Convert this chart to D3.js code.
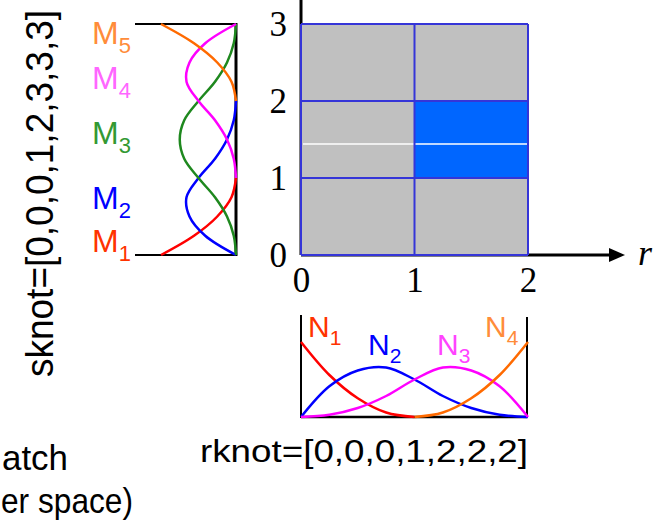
<!DOCTYPE html>
<html><head><meta charset="utf-8">
<script src="https://cdn.jsdelivr.net/npm/d3@7"></script>
<style>body{margin:0;background:#fff}svg{display:block}</style>
</head><body>
<svg id="c" width="659" height="526"></svg>
<script>
// ---- data ----
const sKnotText = "sknot=[0,0,0,1,2,3,3,3]";
const rKnotText = "rknot=[0,0,0,1,2,2,2]";
const captionLines = ["atch", "er space)"];
const sTicks = [0, 1, 2, 3];
const rTicks = [0, 1, 2];
const highlightCell = {r0: 1, r1: 2, s0: 1, s1: 2};
const isoLineS = 1.44;

// sample positions (parameter values)
const sParams = [0,0.25,0.5,0.75,1,1.25,1.5,1.75,2,2.25,2.5,2.75,3];
const M1 = [1,0.56,0.25,0.06,0,null,null,null,null,null,null,null,null];
const M2 = [0,0.41,0.62,0.66,0.5,0.28,0.12,0.03,0,null,null,null,null];
const M3 = [0,0.03,0.12,0.28,0.5,0.69,0.75,0.69,0.5,0.28,0.12,0.03,0];
const M4 = [null,null,null,null,0,0.03,0.12,0.28,0.5,0.66,0.62,0.41,0];
const M5 = [null,null,null,null,null,null,null,null,0,0.06,0.25,0.56,1];

const rParams = [0,0.25,0.5,0.75,1,1.25,1.5,1.75,2];
const N1 = [1,0.56,0.25,0.06,0,null,null,null,null];
const N2 = [0,0.41,0.62,0.66,0.5,0.28,0.12,0.03,0];
const N3 = [0,0.03,0.12,0.28,0.5,0.66,0.62,0.41,0];
const N4 = [null,null,null,null,0,0.06,0.25,0.56,1];

const mSeries = [
  {name:"M", sub:"1", vals:M1, color:"#ff0000", label:"#ff3300"},
  {name:"M", sub:"2", vals:M2, color:"#0000ff", label:"#0000ff"},
  {name:"M", sub:"3", vals:M3, color:"#1e881e", label:"#339933"},
  {name:"M", sub:"4", vals:M4, color:"#ff00ff", label:"#ff66ff"},
  {name:"M", sub:"5", vals:M5, color:"#ff6a00", label:"#ff8c3a"}
];
const mLabelY = [252, 209, 144, 89, 44];
const nSeries = [
  {name:"N", sub:"1", vals:N1, color:"#ff0000", label:"#ff3300"},
  {name:"N", sub:"2", vals:N2, color:"#0000ff", label:"#0000ff"},
  {name:"N", sub:"3", vals:N3, color:"#ff00ff", label:"#ff44ff"},
  {name:"N", sub:"4", vals:N4, color:"#ff6a00", label:"#ff8c3a"}
];
const nLabelPos = [[308,337],[368,355],[437,355],[485,337]];

// ---- drawing ----
const svg = d3.select("#c");
const sY = d3.scaleLinear().domain([0,3]).range([255,24]);
const rX = d3.scaleLinear().domain([0,2]).range([301,528]);
const mX = d3.scaleLinear().domain([0,1]).range([236,161]);
const nY = d3.scaleLinear().domain([0,1]).range([417,342]);
const SANS = "'Liberation Sans', Arial, sans-serif";
const SERIF = "'Liberation Serif', 'Times New Roman', serif";

// vertical axis line of main plot
svg.append("line").attr("x1", rX(0)).attr("x2", rX(0)).attr("y1", 0).attr("y2", sY(0))
  .attr("stroke","#000").attr("stroke-width",3);
// horizontal axis with arrow
svg.append("line").attr("x1", rX(0)).attr("x2", 612).attr("y1", sY(0)).attr("y2", sY(0))
  .attr("stroke","#000").attr("stroke-width",3);
svg.append("path").attr("d", `M609,${sY(0)-7}L625,${sY(0)}L609,${sY(0)+7}Z`).attr("fill","#000");
svg.append("text").attr("x",638).attr("y",265).attr("font-family",SERIF).attr("font-style","italic")
  .attr("font-size",36).text("r");

// cells
const cells = [];
for (let i=0;i<rTicks.length-1;i++) for (let j=0;j<sTicks.length-1;j++)
  cells.push({r0:rTicks[i], r1:rTicks[i+1], s0:sTicks[j], s1:sTicks[j+1]});
svg.append("g").selectAll("rect").data(cells).join("rect")
  .attr("x", d=>rX(d.r0)).attr("y", d=>sY(d.s1))
  .attr("width", d=>rX(d.r1)-rX(d.r0)).attr("height", d=>sY(d.s0)-sY(d.s1))
  .attr("fill", d=> (d.r0===highlightCell.r0 && d.s0===highlightCell.s0) ? "#0066ff" : "#c0c0c0");
// iso line
svg.append("line").attr("x1", rX(0)+2).attr("x2", rX(2)-1).attr("y1", sY(isoLineS)).attr("y2", sY(isoLineS))
  .attr("stroke","#fff").attr("stroke-width",1.5);
// grid lines
const gridG = svg.append("g").attr("stroke","#3535d8").attr("stroke-width",2);
rTicks.forEach(r=> gridG.append("line").attr("x1",rX(r)).attr("x2",rX(r)).attr("y1",sY(0)).attr("y2",sY(3)));
sTicks.forEach(s=> gridG.append("line").attr("x1",rX(0)).attr("x2",rX(2)).attr("y1",sY(s)).attr("y2",sY(s)));

// tick labels
const yAx = svg.append("g").attr("transform",`translate(${rX(0)},0)`)
  .call(d3.axisLeft(sY).tickValues(sTicks).tickSize(0).tickPadding(14).tickFormat(d3.format("d")));
const xAx = svg.append("g").attr("transform",`translate(0,${sY(0)})`)
  .call(d3.axisBottom(rX).tickValues(rTicks).tickSize(0).tickPadding(12).tickFormat(d3.format("d")));
[yAx,xAx].forEach(a=>{ a.select(".domain").remove();
  a.selectAll("text").attr("font-family",SERIF).attr("font-size",35).attr("fill","#000"); });

// ---- left plot (s basis functions) ----
svg.append("line").attr("x1",135).attr("x2",mX(0)).attr("y1",sY(3)).attr("y2",sY(3)).attr("stroke","#000").attr("stroke-width",2);
svg.append("line").attr("x1",135).attr("x2",mX(0)).attr("y1",sY(0)).attr("y2",sY(0)).attr("stroke","#000").attr("stroke-width",2);
svg.append("line").attr("x1",mX(0)).attr("x2",mX(0)).attr("y1",sY(3)-1).attr("y2",sY(0)+1).attr("stroke","#000").attr("stroke-width",3);
const mLine = d3.line().defined(d=>d[1]!=null).x(d=>mX(d[1])).y(d=>sY(d[0])).curve(d3.curveCatmullRom.alpha(0.5));
svg.append("g").selectAll("path").data(mSeries).join("path")
  .attr("d", d=> mLine(sParams.map((s,i)=>[s,d.vals[i]])))
  .attr("fill","none").attr("stroke",d=>d.color).attr("stroke-width",2.5);
mSeries.forEach((d,i)=>{
  const t = svg.append("text").attr("x",92).attr("y",mLabelY[i]).attr("font-family",SANS)
    .attr("font-size",32).attr("fill",d.label);
  t.append("tspan").text(d.name);
  t.append("tspan").attr("dy",9).attr("font-size",22).text(d.sub);
});

// ---- bottom plot (r basis functions) ----
svg.append("line").attr("x1",rX(0)).attr("x2",rX(0)).attr("y1",315).attr("y2",nY(0)+1).attr("stroke","#000").attr("stroke-width",2);
svg.append("line").attr("x1",rX(2)-1).attr("x2",rX(2)-1).attr("y1",317).attr("y2",nY(0)+1).attr("stroke","#000").attr("stroke-width",2);
svg.append("line").attr("x1",rX(0)).attr("x2",rX(2)-1).attr("y1",nY(0)).attr("y2",nY(0)).attr("stroke","#000").attr("stroke-width",2.5);
const nLine = d3.line().defined(d=>d[1]!=null).x(d=>rX(d[0])).y(d=>nY(d[1])).curve(d3.curveCatmullRom.alpha(0.5));
svg.append("g").selectAll("path").data(nSeries).join("path")
  .attr("d", d=> nLine(rParams.map((r,i)=>[r,d.vals[i]])))
  .attr("fill","none").attr("stroke",d=>d.color).attr("stroke-width",2.5);
nSeries.forEach((d,i)=>{
  const t = svg.append("text").attr("x",nLabelPos[i][0]).attr("y",nLabelPos[i][1]).attr("font-family",SANS)
    .attr("font-size",30).attr("fill",d.label);
  t.append("tspan").text(d.name);
  t.append("tspan").attr("dy",8).attr("font-size",21).text(d.sub);
});

// ---- knot texts ----
svg.append("text").attr("x",200).attr("y",462).attr("font-family",SANS).attr("font-size",31)
  .attr("textLength",328).attr("lengthAdjust","spacingAndGlyphs").text(rKnotText);
svg.append("text").attr("transform","translate(53,377) rotate(-90)").attr("font-family",SANS)
  .attr("font-size",38).attr("textLength",367).attr("lengthAdjust","spacingAndGlyphs").text(sKnotText);

// ---- caption (partly outside the original frame) ----
svg.append("text").attr("x",2).attr("y",470).attr("font-family",SANS)
  .attr("font-size",35).attr("textLength",66).attr("lengthAdjust","spacingAndGlyphs").text(captionLines[0]);
svg.append("text").attr("x",1).attr("y",513).attr("font-family",SANS)
  .attr("font-size",35).attr("textLength",132).attr("lengthAdjust","spacingAndGlyphs").text(captionLines[1]);
</script>
</body></html>
